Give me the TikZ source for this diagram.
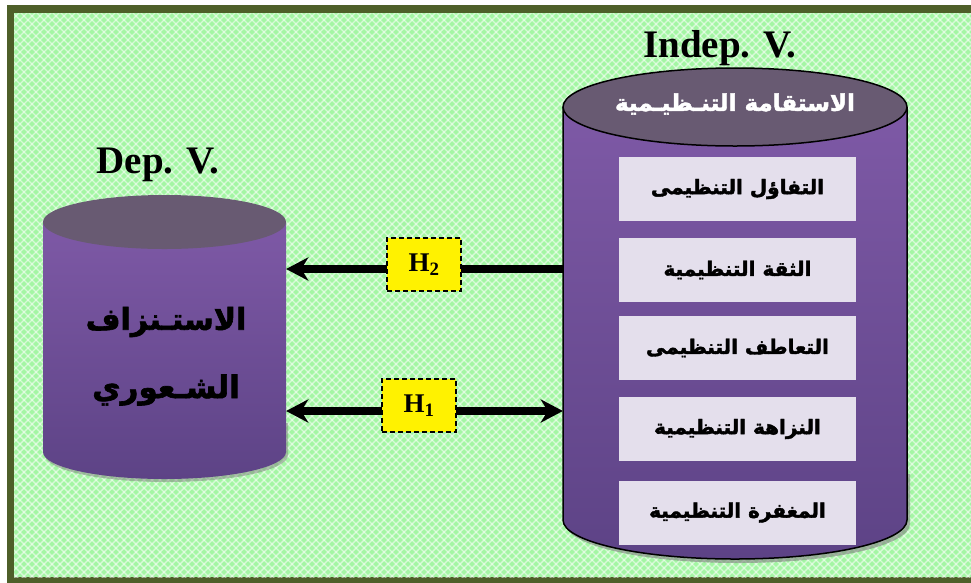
\documentclass[tikz,border=0pt]{standalone}
\usepackage{fontspec}
\usetikzlibrary{arrows.meta}
\setmainfont{Liberation Serif}
\newfontfamily\arabicheavy[Script=Arabic, FakeBold=2]{DejaVu Sans Bold}
\TeXXeTstate=1

\definecolor{frameolive}{HTML}{4E5F29}
\definecolor{meadow}{HTML}{A4F6A4}
\definecolor{lidgray}{HTML}{685A72}
\definecolor{violettop}{HTML}{7E59A6}
\definecolor{violetbot}{HTML}{5D4386}
\definecolor{lavender}{HTML}{E4DFEC}

\tikzset{
  itembox/.style={fill=lavender, minimum width=237pt, minimum height=64pt,
    inner sep=0pt, text=black, font=\arabicheavy\fontsize{20}{22}\selectfont},
  hbox/.style={fill=yellow, draw=black, line width=1.3pt, dash pattern=on 5pt off 3pt,
    minimum width=74pt, minimum height=53pt, inner sep=0pt,
    font=\bfseries\fontsize{27}{30}\selectfont},
  bigarrow/.style={line width=8pt, draw=black},
  arrowshadow/.style={line width=8pt, draw=black!45, opacity=.7},
  headtip/.tip={Stealth[length=22pt,width=23pt,inset=7pt]},
  varlabel/.style={anchor=base, font=\bfseries\fontsize{39}{42}\selectfont},
  body/.style={inner sep=0pt}
}

\begin{document}
\begin{tikzpicture}[x=1pt,y=-1pt]
\useasboundingbox (0,0) rectangle (971,582);

% page, frame and patterned field
\fill[white] (0,0) rectangle (980,590);
\fill[frameolive] (7,5) rectangle (980,590);
\begin{scope}
  \clip (14,13) rectangle (980,577);
  \fill[meadow] (14,13) rectangle (980,577);
  \foreach \c in {-600,-592,...,1600} {
    \draw[white, opacity=.55, line width=1.4pt] (\c,0) -- (\c+600,600);
    \draw[white, opacity=.55, line width=1.4pt] (\c,0) -- (\c-600,600);
  }
\end{scope}

% ---- left cylinder (dependent variable)
\fill[black!50, opacity=.5, shift={(2,3)}]
  (43,420) -- (43,452) arc[start angle=180, end angle=360, x radius=121.5pt, y radius=27pt]
  -- (286,420) -- cycle;
\shade[top color=violettop, bottom color=violetbot]
  (43,222) -- (43,452) arc[start angle=180, end angle=360, x radius=121.5pt, y radius=27pt]
  -- (286,222) -- cycle;
\fill[lidgray] (164.5,222) ellipse[x radius=121.5pt, y radius=27pt];
\node[body, minimum width=243pt, minimum height=257pt] (dep) at (164.5,337) {};

% ---- right cylinder (independent variable)
\fill[black!50, opacity=.6, shift={(3,4)}]
  (563,470) -- (563,520) arc[start angle=180, end angle=360, x radius=172pt, y radius=39pt]
  -- (907,470) -- cycle;
\shade[top color=violettop, bottom color=violetbot]
  (563,107) -- (563,520) arc[start angle=180, end angle=360, x radius=172pt, y radius=39pt]
  -- (907,107) -- cycle;
\draw[line width=1.5pt]
  (563,107) -- (563,520) arc[start angle=180, end angle=360, x radius=172pt, y radius=39pt]
  -- (907,107);
\draw[fill=lidgray, line width=1.5pt] (735,107) ellipse[x radius=172pt, y radius=39pt];
\node[body, minimum width=344pt, minimum height=413pt] (indep) at (735,313.5) {};

% titles
\node[varlabel] (deplabel) at (158,173) {Dep. V.};
\node[varlabel] (indeplabel) at (720,57) {Indep. V.};

% cylinder texts
\node[text=white, font=\arabicheavy\fontsize{23}{26}\selectfont] (lid)
  at (735,104) {\beginR الاستقامة التنـظيـمية\endR};
\node[font=\arabicheavy\fontsize{30}{36}\selectfont] (dep1)
  at (166,322) {\beginR الاستـنزاف\endR};
\node[font=\arabicheavy\fontsize{31}{36}\selectfont] (dep2)
  at (166,390) {\beginR الشـعوري\endR};

% dimensions of the independent variable
\node[itembox] (f1) at (737.5,189) {\beginR التفاؤل التنظيمى\endR};
\node[itembox] (f2) at (737.5,270) {\beginR الثقة التنظيمية\endR};
\node[itembox] (f3) at (737.5,348) {\beginR التعاطف التنظيمى\endR};
\node[itembox] (f4) at (737.5,429) {\beginR النزاهة التنظيمية\endR};
\node[itembox] (f5) at (737.5,512.5) {\beginR المغفرة التنظيمية\endR};

% hypothesis arrows
\coordinate (rowA) at (0,269);
\coordinate (rowB) at (0,411);
\begin{scope}[shift={(2,4)}]
  \draw[arrowshadow, -headtip] (indep.west |- rowA) -- (dep.east |- rowA);
  \draw[arrowshadow, headtip-headtip] (dep.east |- rowB) -- (indep.west |- rowB);
\end{scope}
\draw[bigarrow, -headtip] (indep.west |- rowA) -- (dep.east |- rowA);
\draw[bigarrow, headtip-headtip] (dep.east |- rowB) -- (indep.west |- rowB);

\node[hbox] (H2) at (424,264.5) {H\textsubscript{2}};
\node[hbox] (H1) at (419,405.5) {H\textsubscript{1}};
\end{tikzpicture}
\end{document}
